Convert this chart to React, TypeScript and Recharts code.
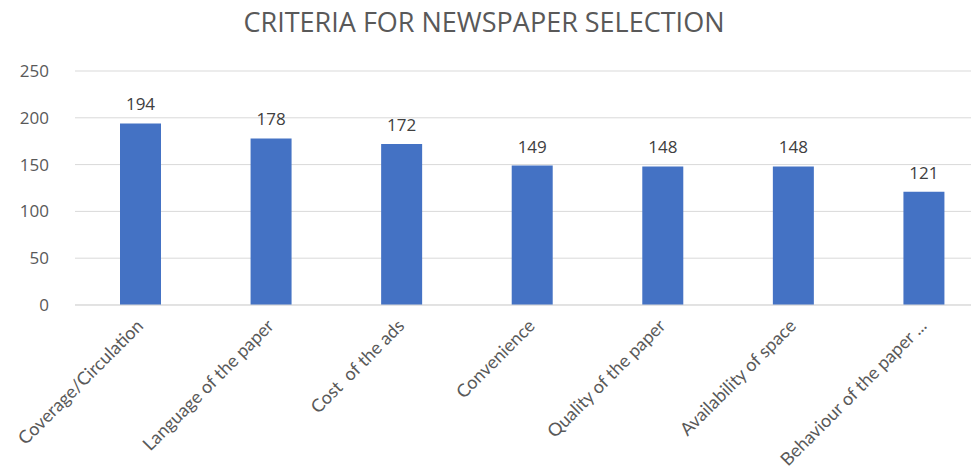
import { BarChart, Bar, XAxis, YAxis, CartesianGrid, LabelList } from "recharts";

// Datos del gráfico
const criteria = [
  "Coverage/Circulation",
  "Language of the paper",
  "Cost  of the ads",
  "Convenience",
  "Quality of the paper",
  "Availability of space",
  "Behaviour of the paper ...",
];
const counts = [194, 178, 172, 149, 148, 148, 121];
const yTicks = [0, 50, 100, 150, 200, 250];

const data = criteria.map((name, i) => ({ name, value: counts[i] }));

const FONT = "'Open Sans', 'Noto Sans', sans-serif";
const TICK_FONT = "Lato, 'Open Sans', sans-serif";

// Etiqueta inclinada del eje X
const AngledTick = (props: any) => {
  const { x, y, payload } = props;
  return (
    <g transform={`translate(${x - 3},${y + 7})`}>
      <text
        transform="rotate(-45)"
        textAnchor="end"
        fill="#595959"
        fontSize={18}
        fontFamily={TICK_FONT}
        xmlSpace="preserve"
        style={{ whiteSpace: "pre" }}
        dy={10}
      >
        {payload.value}
      </text>
    </g>
  );
};

const App = () => {
  return (
    <div
      style={{
        position: "relative",
        width: 979,
        height: 470,
        margin: "-8px 0 0 -8px",
        overflow: "hidden",
        background: "#fff",
      }}
    >
      <div
        style={{
          position: "absolute",
          top: 3,
          left: 0,
          width: 968,
          textAlign: "center",
          fontFamily: FONT,
          fontSize: 27,
          color: "#595959",
        }}
      >
        CRITERIA FOR NEWSPAPER SELECTION
      </div>
      <div style={{ position: "absolute", top: 0, left: 0 }}>
        <BarChart
          width={1000}
          height={470}
          data={data}
          margin={{ top: 71, right: 11, bottom: 0, left: 11 }}
        >
          <CartesianGrid vertical={false} stroke="#d9d9d9" />
          <XAxis
            dataKey="name"
            interval={0}
            height={165}
            tickLine={false}
            axisLine={{ stroke: "#d9d9d9" }}
            tick={<AngledTick />}
          />
          <YAxis
            domain={[0, 250]}
            ticks={yTicks}
            width={64}
            tickLine={false}
            axisLine={false}
            tick={{ fill: "#595959", fontSize: 17, fontFamily: FONT }}
            tickMargin={20}
          />
          <Bar dataKey="value" fill="#4472c4" barSize={41} isAnimationActive={false}>
            <LabelList
              dataKey="value"
              position="top"
              offset={13}
              fill="#404040"
              fontSize={17}
              fontFamily={FONT}
            />
          </Bar>
        </BarChart>
      </div>
    </div>
  );
};

export default App;
